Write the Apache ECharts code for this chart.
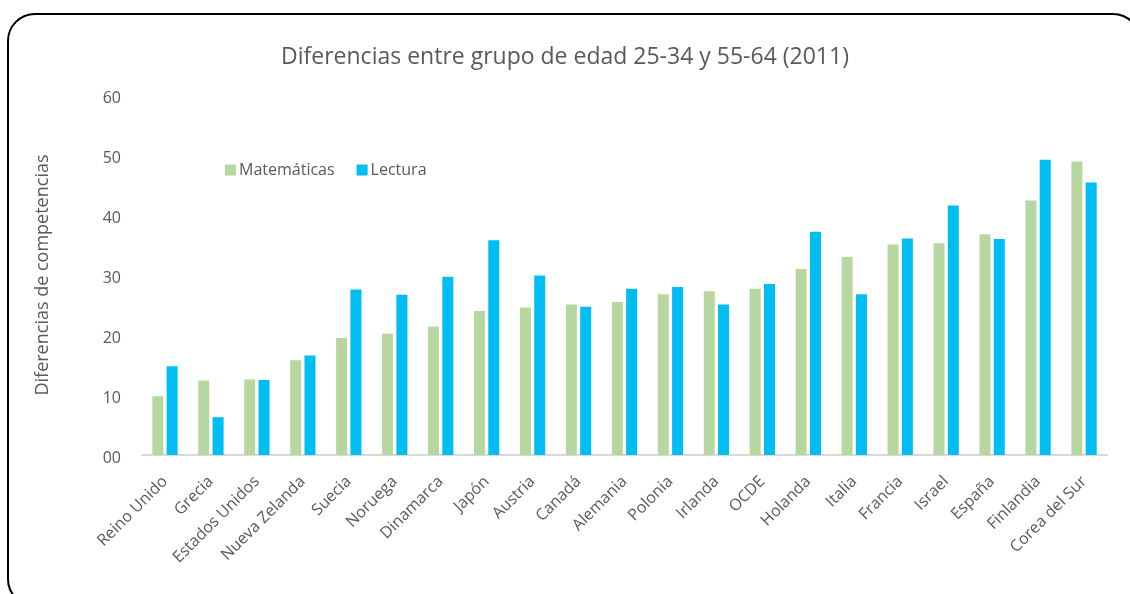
<!DOCTYPE html>
<html>
<head>
<meta charset="utf-8">
<script src="https://cdn.jsdelivr.net/npm/echarts@6/dist/echarts.min.js"></script>
<style>
  html, body { margin: 0; padding: 0; background: #fff; overflow: hidden; }
  #chart { position: absolute; left: 0; top: 0; width: 1130px; height: 594px; }
  #frame {
    position: absolute; left: 7px; top: 13px; width: 1130px; height: 590px;
    border: 2px solid #000; border-radius: 28px; pointer-events: none;
  }
</style>
</head>
<body>
<div id="chart"></div>
<div id="frame"></div>
<script>
// datos
const paises = [
  "Reino Unido", "Grecia", "Estados Unidos", "Nueva Zelanda", "Suecia",
  "Noruega", "Dinamarca", "Japón", "Austria", "Canadá", "Alemania",
  "Polonia", "Irlanda", "OCDE", "Holanda", "Italia", "Francia",
  "Israel", "España", "Finlandia", "Corea del Sur"
];
const matematicas = [
  9.8, 12.4, 12.6, 15.8, 19.5, 20.2, 21.4, 24.0, 24.6, 25.1, 25.5,
  26.8, 27.3, 27.7, 31.0, 33.0, 35.1, 35.3, 36.8, 42.4, 48.9
];
const lectura = [
  14.8, 6.3, 12.5, 16.6, 27.6, 26.7, 29.7, 35.8, 29.9, 24.7, 27.7,
  28.0, 25.1, 28.5, 37.2, 26.8, 36.1, 41.6, 36.0, 49.2, 45.4
];
const ticksY = { min: 0, max: 60, step: 10 };

const gris = "#595959";
const fuente = "'Open Sans', sans-serif";

const chart = echarts.init(document.getElementById("chart"));

chart.setOption({
  animation: false,
  textStyle: { fontFamily: fuente },
  title: {
    text: "Diferencias entre grupo de edad 25-34 y 55-64 (2011)",
    left: "center",
    top: 41,
    textStyle: { fontSize: 23, fontWeight: "normal", color: gris, fontFamily: fuente }
  },
  legend: {
    left: 220,
    top: 157,
    itemWidth: 11,
    itemHeight: 11,
    itemGap: 22,
    icon: "rect",
    textStyle: { fontSize: 16, color: gris, padding: [0, 0, 0, -2] },
    data: ["Matemáticas", "Lectura"]
  },
  grid: { left: 142, right: 23, top: 95, bottom: 139 },
  xAxis: {
    type: "category",
    data: paises,
    axisLine: { lineStyle: { color: "#d9d9d9", width: 2 } },
    axisTick: { show: false },
    axisLabel: {
      interval: 0,
      rotate: 45,
      margin: 24,
      fontSize: 16,
      color: gris
    }
  },
  yAxis: {
    type: "value",
    min: ticksY.min,
    max: ticksY.max,
    interval: ticksY.step,
    name: "Diferencias de competencias",
    nameLocation: "middle",
    nameRotate: 90,
    nameGap: 90,
    nameTextStyle: { fontSize: 18, color: gris },
    axisLine: { show: false },
    axisTick: { show: false },
    splitLine: { show: false },
    axisLabel: {
      margin: 21,
      fontSize: 16,
      color: gris,
      verticalAlign: "top",
      lineHeight: 6,
      formatter: v => String(v).padStart(2, "0")
    }
  },
  series: [
    {
      name: "Matemáticas",
      type: "bar",
      data: matematicas,
      barWidth: 11,
      barGap: "30%",
      itemStyle: { color: "#b7d7a0" }
    },
    {
      name: "Lectura",
      type: "bar",
      data: lectura,
      barWidth: 11,
      itemStyle: { color: "#00bdf2" }
    }
  ]
});
</script>
</body>
</html>
